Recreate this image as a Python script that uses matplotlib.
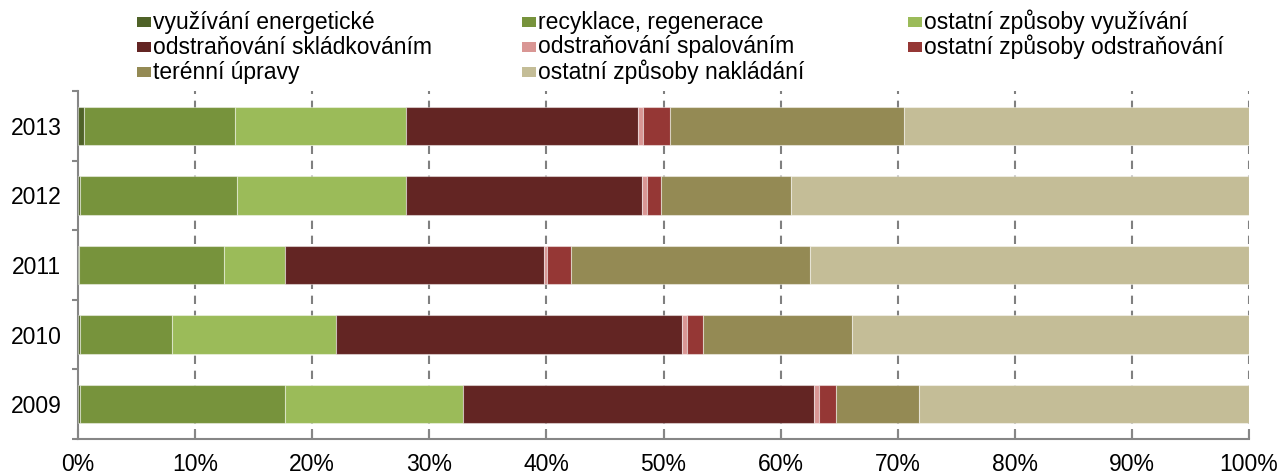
import numpy as np
import matplotlib.pyplot as plt
from matplotlib.patches import Rectangle

plt.rcParams['font.family'] = ['Liberation Sans', 'DejaVu Sans']

# data (share in %), bottom to top
years = ['2009', '2010', '2011', '2012', '2013']
energeticke = [0.2, 0.2, 0.1, 0.2, 0.5]
recyklace = [17.5, 7.85, 12.4, 13.4, 12.9]
ostatni_vyuz = [15.2, 13.95, 5.2, 14.45, 14.65]
skladkovani = [29.95, 29.6, 22.1, 20.15, 19.8]
spalovani = [0.45, 0.4, 0.25, 0.4, 0.4]
ostatni_odstr = [1.4, 1.4, 2.05, 1.2, 2.3]
terenni = [7.1, 12.7, 20.4, 11.1, 19.95]
nakladani = [28.2, 33.9, 37.5, 39.1, 29.5]

series = [energeticke, recyklace, ostatni_vyuz, skladkovani,
          spalovani, ostatni_odstr, terenni, nakladani]
labels = ['využívání energetické', 'recyklace, regenerace', 'ostatní způsoby využívání',
          'odstraňování skládkováním', 'odstraňování spalováním', 'ostatní způsoby odstraňování',
          'terénní úpravy', 'ostatní způsoby nakládání']
colors = ['#4F6228', '#77933C', '#9BBB59', '#632523',
          '#D99694', '#953735', '#948A54', '#C4BD97']

W, H = 1279, 475
fig = plt.figure(figsize=(W/100, H/100), dpi=100)
ax = fig.add_axes([78/W, 36/H, (1249-78)/W, (439-91)/H])

y = np.arange(len(years))
left = np.zeros(len(years))
for vals, lab, col in zip(series, labels, colors):
    vals = np.array(vals)
    ax.barh(y, vals, left=left, height=0.55, color=col, label=lab,
            edgecolor=(1, 1, 1, 0.45), linewidth=0.8, zorder=3)
    left += vals

ax.set_xlim(0, 100)
ax.set_ylim(-0.5, 4.5)

# x axis
ax.set_xticks(np.arange(0, 101, 10))
ax.set_xticklabels([f'{v}%' for v in range(0, 101, 10)])
ax.tick_params(axis='x', direction='in', length=7, width=1.5, color='#868686',
               labelsize=16.5, pad=10)
for gx in range(10, 101, 10):
    ax.axvline(gx, color='#808080', lw=1.5, linestyle=(0, (4, 3.2)), zorder=1)

# y axis: boundary ticks, labels at centres
ax.set_yticks(np.arange(-0.5, 4.6, 1))
ax.set_yticklabels([])
ax.set_yticks(y, minor=True)
ax.set_yticklabels(years, minor=True)
ax.tick_params(axis='y', which='major', direction='out', length=4.5, width=1.5,
               color='#868686')
ax.tick_params(axis='y', which='minor', length=0, labelsize=16.5, pad=12)

for s in ['top', 'right']:
    ax.spines[s].set_visible(False)
for s in ['left', 'bottom']:
    ax.spines[s].set_color('#868686')
    ax.spines[s].set_linewidth(1.5)

# legend: 3 columns, filled row by row
col_x = [137, 522, 908]
row_y = [22, 47, 72]
for i, (lab, col) in enumerate(zip(labels, colors)):
    px = col_x[i % 3]
    py = row_y[i // 3]
    fig.add_artist(Rectangle((px/W, 1 - (py + 5)/H), 14/W, 10/H,
                             transform=fig.transFigure, facecolor=col,
                             edgecolor='none'))
    fig.text((px + 16)/W, 1 - py/H, lab, fontsize=16.5, va='center', ha='left')

fig.savefig('out.png', dpi=100)
